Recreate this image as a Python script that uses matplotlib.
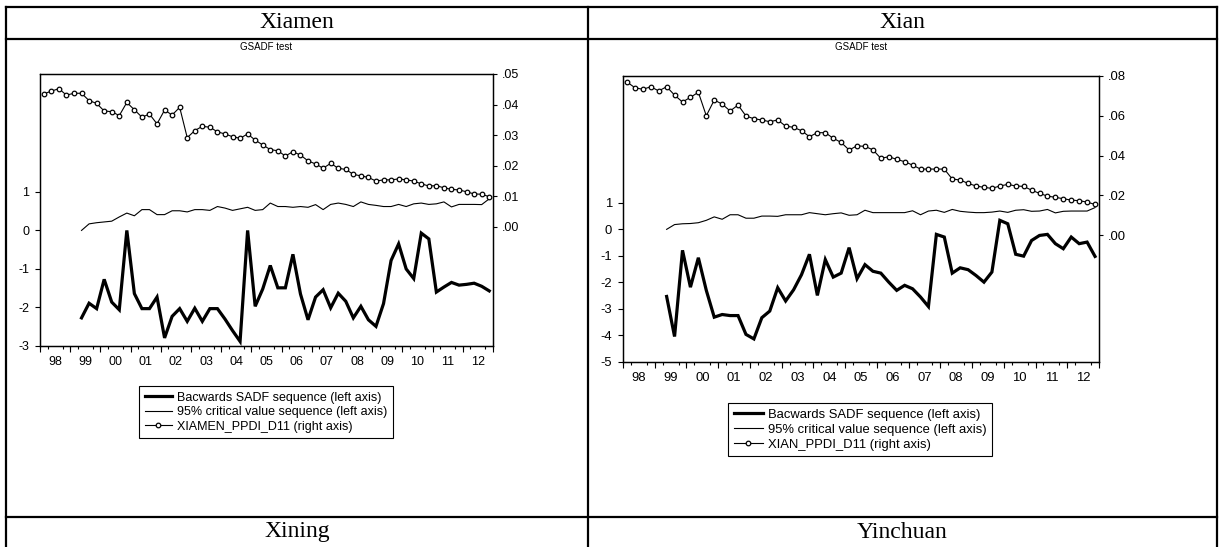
import numpy as np
import matplotlib
matplotlib.use('Agg')
import matplotlib.pyplot as plt
from matplotlib.lines import Line2D

plt.rcParams['font.family'] = ['Liberation Sans', 'DejaVu Sans']
plt.rcParams['axes.unicode_minus'] = False

# ---------------- data (quarterly, 1998Q1 .. 2012Q4) ----------------
year_labels = ['98', '99', '00', '01', '02', '03', '04', '05', '06', '07', '08', '09', '10', '11', '12']
sadf_start = 5  # first SADF observation = 1999Q2

xiamen_sadf = [-2.27, -1.89, -2.03, -1.27, -1.86, -2.06, 0.0, -1.64, -2.03, -2.03,
               -1.73, -2.79, -2.23, -2.03, -2.36, -2.02, -2.36, -2.03, -2.03, -2.3,
               -2.6, -2.88, 0.0, -1.97, -1.52, -0.91, -1.49, -1.49, -0.62, -1.65,
               -2.32, -1.73, -1.54, -2.01, -1.63, -1.84, -2.27, -1.97, -2.32, -2.49,
               -1.9, -0.78, -0.35, -1.0, -1.25, -0.07, -0.22, -1.6, -1.47, -1.35,
               -1.42, -1.4, -1.37, -1.45, -1.57]
xiamen_cv = [0.0, 0.17, 0.2, 0.22, 0.24, 0.35, 0.45, 0.38, 0.54, 0.54,
             0.41, 0.41, 0.51, 0.51, 0.48, 0.54, 0.54, 0.52, 0.62, 0.58,
             0.52, 0.56, 0.6, 0.52, 0.54, 0.71, 0.62, 0.62, 0.6, 0.62,
             0.6, 0.67, 0.54, 0.675, 0.71, 0.675, 0.62, 0.74, 0.675, 0.65,
             0.62, 0.62, 0.675, 0.62, 0.69, 0.71, 0.675, 0.69, 0.74, 0.61,
             0.675, 0.675, 0.675, 0.67, 0.82]
xiamen_ppdi = [0.0435, 0.0444, 0.0452, 0.0431, 0.0437, 0.0437, 0.0413, 0.0404, 0.0379, 0.0377,
               0.0364, 0.0407, 0.0383, 0.0359, 0.0369, 0.0337, 0.0382, 0.0366, 0.0391, 0.0292,
               0.0315, 0.0329, 0.0326, 0.0311, 0.0304, 0.0295, 0.0290, 0.0304, 0.0284, 0.0268,
               0.0253, 0.0249, 0.0232, 0.0246, 0.0235, 0.0216, 0.0206, 0.0192, 0.0208, 0.0192,
               0.0188, 0.0172, 0.0167, 0.0162, 0.0150, 0.0154, 0.0154, 0.0157, 0.0154, 0.0150,
               0.0141, 0.0134, 0.0135, 0.0128, 0.0123, 0.0121, 0.0115, 0.0108, 0.0107, 0.0099]

xian_sadf = [-2.53, -4.04, -0.79, -2.18, -1.07, -2.3, -3.31, -3.21, -3.25, -3.25,
             -3.96, -4.13, -3.33, -3.08, -2.2, -2.7, -2.28, -1.71, -0.94, -2.49,
             -1.14, -1.8, -1.65, -0.69, -1.86, -1.33, -1.58, -1.65, -1.99, -2.3,
             -2.11, -2.24, -2.55, -2.91, -0.19, -0.29, -1.65, -1.45, -1.52, -1.74,
             -1.99, -1.61, 0.34, 0.21, -0.94, -1.01, -0.42, -0.23, -0.19, -0.54,
             -0.73, -0.29, -0.54, -0.48, -1.02]
xian_cv = [0.0, 0.18, 0.21, 0.22, 0.25, 0.34, 0.47, 0.38, 0.55, 0.55,
           0.42, 0.42, 0.5, 0.5, 0.49, 0.55, 0.55, 0.55, 0.63, 0.59,
           0.55, 0.59, 0.62, 0.53, 0.55, 0.72, 0.63, 0.63, 0.63, 0.63,
           0.63, 0.70, 0.55, 0.69, 0.72, 0.64, 0.75, 0.68, 0.65, 0.63,
           0.63, 0.65, 0.69, 0.64, 0.72, 0.74, 0.68, 0.69, 0.75, 0.62,
           0.68, 0.69, 0.69, 0.69, 0.82]
xian_ppdi = [0.0770, 0.0741, 0.0733, 0.0746, 0.0725, 0.0746, 0.0704, 0.0669, 0.0693, 0.0718,
             0.0600, 0.0679, 0.0659, 0.0624, 0.0654, 0.0599, 0.0585, 0.0579, 0.0570, 0.0579,
             0.0548, 0.0542, 0.0525, 0.0495, 0.0515, 0.0515, 0.0487, 0.0466, 0.0428, 0.0449,
             0.0446, 0.0429, 0.0386, 0.0394, 0.0381, 0.0369, 0.0352, 0.0332, 0.0332, 0.0332,
             0.0332, 0.0282, 0.0277, 0.0260, 0.0247, 0.0240, 0.0235, 0.0247, 0.0255, 0.0247,
             0.0245, 0.0226, 0.0210, 0.0196, 0.0190, 0.0183, 0.0176, 0.0173, 0.0166, 0.0154]

xiamen_left_ticks = [-3, -2, -1, 0, 1]
xiamen_right_ticks = [0.0, 0.01, 0.02, 0.03, 0.04, 0.05]
xiamen_right_labels = ['.00', '.01', '.02', '.03', '.04', '.05']
xian_left_ticks = [-5, -4, -3, -2, -1, 0, 1]
xian_right_ticks = [0.0, 0.02, 0.04, 0.06, 0.08]
xian_right_labels = ['.00', '.02', '.04', '.06', '.08']

legend_labels_common = ['Bacwards SADF sequence (left axis)',
                        '95% critical value sequence (left axis)']

# ---------------- figure ----------------
W, H = 1224, 547
fig = plt.figure(figsize=(W / 100, H / 100), dpi=100)


def fx(x):
    return x / W


def fy(y):
    return 1 - y / H


def hline(y, x0, x1, lw=1.6):
    fig.add_artist(Line2D([fx(x0), fx(x1)], [fy(y), fy(y)], color='black', lw=lw,
                          solid_capstyle='projecting'))


def vline(x, y0, y1, lw=1.6):
    fig.add_artist(Line2D([fx(x), fx(x)], [fy(y0), fy(y1)], color='black', lw=lw,
                          solid_capstyle='projecting'))


# table grid
hline(7, 6, 1217)
hline(39, 6, 1217)
hline(517, 6, 1217)
vline(6, 7, 548)
vline(588, 7, 548)
vline(1217, 7, 548)

serif = ['Liberation Serif', 'DejaVu Serif']
fig.text(fx(297), fy(23), 'Xiamen', ha='center', va='center', fontsize=17, family=serif)
fig.text(fx(902), fy(23), 'Xian', ha='center', va='center', fontsize=17, family=serif)
fig.text(fx(297), fy(532), 'Xining', ha='center', va='center', fontsize=17, family=serif)
fig.text(fx(902), fy(532), 'Yinchuan', ha='center', va='center', fontsize=17, family=serif)


def panel(box, sadf, cv, ppdi, lticks, rticks, rlabels, rlim, llim, ppdi_name, leg_xy, fs):
    l, t, r, b = box
    ax = fig.add_axes([fx(l), fy(b), fx(r) - fx(l), fy(t) - fy(b)])
    n = len(ppdi)
    xs_all = np.arange(n)
    xs = np.arange(sadf_start, sadf_start + len(sadf))
    h1, = ax.plot(xs, sadf, color='black', lw=2.3, solid_joinstyle='miter')
    h2, = ax.plot(xs, cv, color='black', lw=0.8)
    ax.set_xlim(-0.5, n - 0.5)
    ax.set_ylim(*llim)
    ax.set_yticks(lticks)
    ax.set_yticklabels([str(v) for v in lticks])
    ax.tick_params(axis='y', direction='out', length=3.8, width=0.8, pad=4, labelsize=fs)
    # year labels at centres, long ticks at year bounds, short at quarters
    ax.set_xticks([4 * k + 1.5 for k in range(len(year_labels))])
    ax.set_xticklabels(year_labels)
    ax.tick_params(axis='x', which='major', length=0, pad=7.5, labelsize=fs)
    ax.set_xticks(np.arange(-0.5, n, 1.0), minor=True)
    ax.tick_params(axis='x', which='minor', direction='out', length=2.2, width=0.8)
    sec = ax.secondary_xaxis('bottom')
    sec.set_xticks(np.arange(-0.5, n, 4.0))
    sec.set_xticklabels([])
    sec.tick_params(direction='out', length=4.2, width=0.8)
    sec.spines['bottom'].set_visible(False)
    for sp in ax.spines.values():
        sp.set_linewidth(0.9)

    ax2 = ax.twinx()
    h3, = ax2.plot(xs_all, ppdi, color='black', lw=0.8, marker='o', ms=3.3,
                   mfc='white', mec='black', mew=0.9)
    ax2.set_ylim(*rlim)
    ax2.set_yticks(rticks)
    ax2.set_yticklabels(rlabels)
    ax2.tick_params(axis='y', direction='out', length=3.2, width=0.8, pad=3.5, labelsize=fs)
    for sp in ax2.spines.values():
        sp.set_linewidth(0.9)

    fig.text(fx((l + r) / 2), fy(47), 'GSADF test', ha='center', va='center', fontsize=7)

    leg = fig.legend([h1, h2, h3],
                     legend_labels_common + [ppdi_name + ' (right axis)'],
                     loc='upper left', bbox_to_anchor=(fx(leg_xy[0]), fy(leg_xy[1])),
                     bbox_transform=fig.transFigure, frameon=True, fancybox=False,
                     edgecolor='black', framealpha=1, fontsize=fs, borderpad=0.45,
                     handlelength=2.2, handletextpad=0.4, labelspacing=0.2,
                     borderaxespad=0, numpoints=1)
    leg.get_frame().set_linewidth(0.8)
    return ax, ax2


panel((40, 74, 493, 346), xiamen_sadf, xiamen_cv, xiamen_ppdi,
      xiamen_left_ticks, xiamen_right_ticks, xiamen_right_labels,
      (-0.0389, 0.05), (-3, 4.06), 'XIAMEN_PPDI_D11', (139, 386), 9)

panel((623, 76, 1099, 362), xian_sadf, xian_cv, xian_ppdi,
      xian_left_ticks, xian_right_ticks, xian_right_labels,
      (-0.0638, 0.08), (-5, 5.78), 'XIAN_PPDI_D11', (728, 403), 9.4)

fig.savefig('out.png', dpi=100)
